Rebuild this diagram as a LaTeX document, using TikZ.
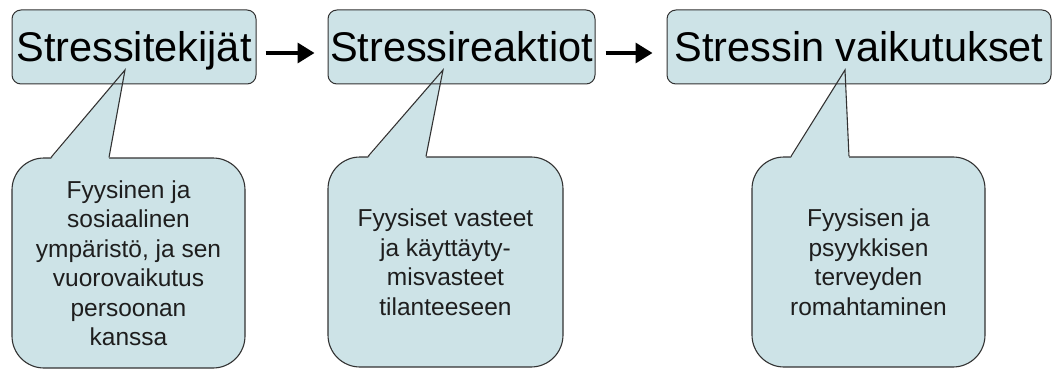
\documentclass[tikz,border=0pt]{standalone}
\usepackage{fontspec}
\setmainfont{Liberation Sans}
\usetikzlibrary{arrows.meta}
\definecolor{boxfill}{RGB}{205,227,231}
\definecolor{edge}{RGB}{50,50,50}
\definecolor{bodytext}{RGB}{30,30,30}
\tikzset{
  titlebox/.style={draw=edge, line width=1pt, fill=boxfill, rounded corners=9pt,
    inner sep=0pt, text height=30pt, text depth=0pt, minimum height=74pt,
    font=\fontsize{41.5}{45}\selectfont},
  bubble/.style={draw=edge, line width=1.1pt, fill=boxfill, rounded corners=32pt,
    inner sep=0pt, minimum width=233pt, minimum height=210pt, align=center,
    text=bodytext, font=\fontsize{24.5}{29.5}\selectfont},
  flow/.style={line width=3.5pt, -{Triangle[length=17pt,width=20pt]}},
  tailline/.style={draw=edge, line width=1.1pt, line join=miter},
}
\begin{document}
\begin{tikzpicture}[x=1pt,y=-1pt]
\useasboundingbox (0,0) rectangle (1053,369);

% speech bubbles with their explanations
\node[bubble] (c1) at (128.5,263)
  {Fyysinen ja\\sosiaalinen\\ympäristö, ja sen\\vuorovaikutus\\persoonan\\kanssa};
\node[bubble, minimum width=235pt] (c2) at (445.5,262)
  {Fyysiset vasteet\\ja käyttäyty-\\misvasteet\\tilanteeseen};
\node[bubble] (c3) at (868.5,262)
  {Fyysisen ja\\psyykkisen\\terveyden\\romahtaminen};

% tips of the bubble tails, inside the headings
\coordinate (t1) at (125,70);
\coordinate (t2) at (443,70);
\coordinate (t3) at (845,70);

% tail areas (cover the bubble top edge between the tail base points)
\foreach \c/\t in {c1/t1,c2/t2,c3/t3}{
  \fill[boxfill] ([xshift=-77.5pt,yshift=-1.6pt]\c.north) -- (\t)
    -- ([xshift=-19.5pt,yshift=-1.6pt]\c.north) -- cycle;
}

% headings
\node[titlebox, minimum width=244pt] (b1) at (134,47) {Stressitekijät};
\node[titlebox, minimum width=267pt] (b2) at (461.5,47) {Stressireaktiot};
\node[titlebox, minimum width=384pt] (b3) at (859,47) {Stressin vaikutukset};

% tail outlines
\foreach \c/\t in {c1/t1,c2/t2,c3/t3}{
  \draw[tailline] ([xshift=-77.5pt]\c.north) -- (\t) -- ([xshift=-19.5pt]\c.north);
}

% flow arrows between the headings
\draw[flow, shorten <=9pt, shorten >=13pt] ([yshift=-6pt]b1.east) -- ([yshift=-6pt]b2.west);
\draw[flow, shorten <=10pt, shorten >=14pt] ([yshift=-6pt]b2.east) -- ([yshift=-6pt]b3.west);
\end{tikzpicture}
\end{document}
